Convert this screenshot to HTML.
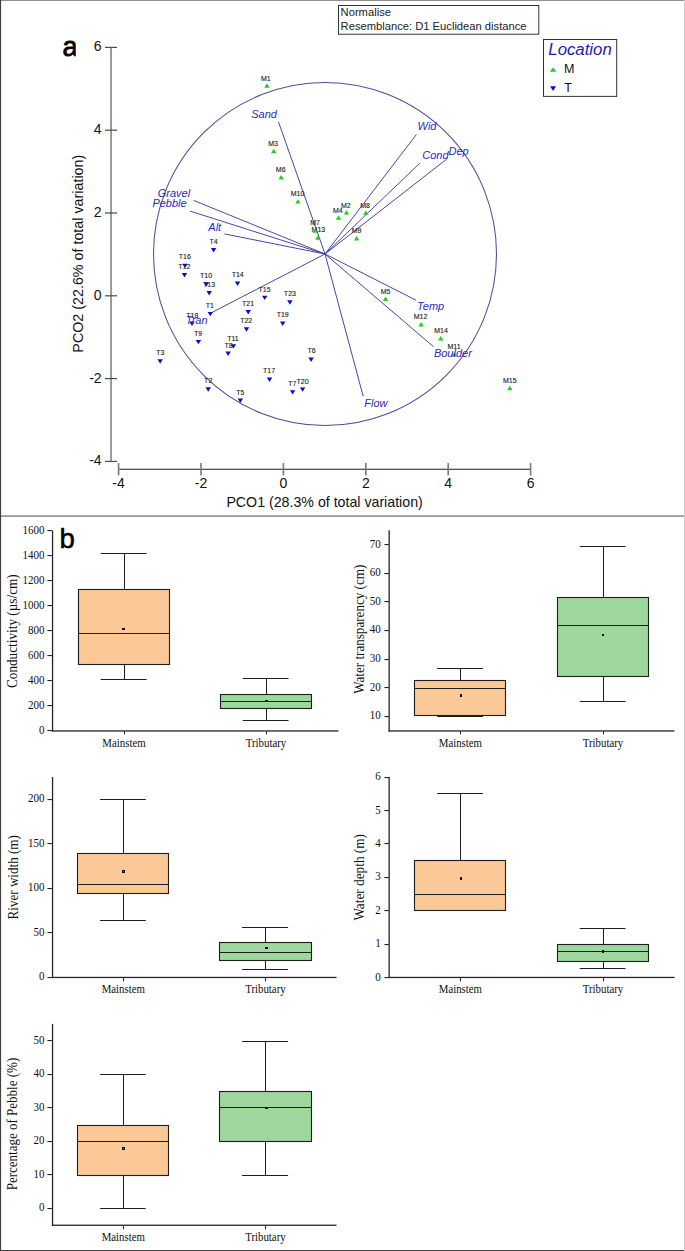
<!DOCTYPE html>
<html><head><meta charset="utf-8"><title>PCO and box plots</title>
<style>
html,body{margin:0;padding:0;background:#fff;}
svg{display:block;}
</style></head>
<body>
<svg width="685" height="1251" viewBox="0 0 685 1251" font-family="'Liberation Sans', sans-serif">
<rect width="685" height="1251" fill="#fff"/>
<rect x="110.2" y="47.3" width="1.7" height="414.5" fill="#8a8a8a"/>
<rect x="105" y="46.8" width="12" height="1.2" fill="#4a4a4a"/>
<text x="101.6" y="51.4" font-size="14" text-anchor="end" fill="#111">6</text>
<rect x="105" y="129.6" width="12" height="1.2" fill="#4a4a4a"/>
<text x="101.6" y="134.2" font-size="14" text-anchor="end" fill="#111">4</text>
<rect x="105" y="212.4" width="12" height="1.2" fill="#4a4a4a"/>
<text x="101.6" y="217.0" font-size="14" text-anchor="end" fill="#111">2</text>
<rect x="105" y="295.2" width="12" height="1.2" fill="#4a4a4a"/>
<text x="101.6" y="299.8" font-size="14" text-anchor="end" fill="#111">0</text>
<rect x="105" y="378.0" width="12" height="1.2" fill="#4a4a4a"/>
<text x="101.6" y="382.6" font-size="14" text-anchor="end" fill="#111">-2</text>
<rect x="105" y="460.8" width="12" height="1.2" fill="#4a4a4a"/>
<text x="101.6" y="465.4" font-size="14" text-anchor="end" fill="#111">-4</text>
<rect x="119" y="468.7" width="412" height="1.2" fill="#444"/>
<rect x="117.8" y="463" width="1.6" height="12.4" fill="#7a7a7a"/>
<text x="118.6" y="488.1" font-size="14" text-anchor="middle" fill="#111">-4</text>
<rect x="200.2" y="463" width="1.6" height="12.4" fill="#7a7a7a"/>
<text x="201.0" y="488.1" font-size="14" text-anchor="middle" fill="#111">-2</text>
<rect x="282.6" y="463" width="1.6" height="12.4" fill="#7a7a7a"/>
<text x="283.4" y="488.1" font-size="14" text-anchor="middle" fill="#111">0</text>
<rect x="365.0" y="463" width="1.6" height="12.4" fill="#7a7a7a"/>
<text x="365.8" y="488.1" font-size="14" text-anchor="middle" fill="#111">2</text>
<rect x="447.4" y="463" width="1.6" height="12.4" fill="#7a7a7a"/>
<text x="448.2" y="488.1" font-size="14" text-anchor="middle" fill="#111">4</text>
<rect x="529.8" y="463" width="1.6" height="12.4" fill="#7a7a7a"/>
<text x="530.6" y="488.1" font-size="14" text-anchor="middle" fill="#111">6</text>
<text x="324.6" y="506.7" font-size="14.2" text-anchor="middle" fill="#111">PCO1 (28.3% of total variation)</text>
<text transform="translate(83.2,253.7) rotate(-90)" font-size="14.3" text-anchor="middle" fill="#111">PCO2 (22.6% of total variation)</text>
<text x="62.4" y="55.6" font-size="27.5" fill="#000" stroke="#000" stroke-width="0.8">a</text>
<rect x="75.8" y="36" width="6" height="24" fill="#fff"/>
<rect x="338.5" y="5.5" width="200.3" height="28.7" fill="none" stroke="#333" stroke-width="1"/>
<text x="340.6" y="16" font-size="11.2" fill="#222">Normalise</text>
<text x="340.6" y="30.2" font-size="11.2" fill="#222">Resemblance: D1 Euclidean distance</text>
<rect x="543.5" y="39.5" width="73.2" height="56.9" fill="none" stroke="#333" stroke-width="1"/>
<text x="548.3" y="54.7" font-size="16.8" font-style="italic" fill="#1c1cb4">Location</text>
<text x="564" y="73.4" font-size="12.5" fill="#111">M</text>
<text x="564.3" y="91.5" font-size="12.5" fill="#111">T</text>
<path d="M549.80 71.80L556.40 71.80L553.10 67.40Z" fill="#17d417"/>
<path d="M550.10 86.20L556.00 86.20L553.05 91.10Z" fill="#0a0ad0"/>
<circle cx="325.0" cy="254.0" r="171.5" fill="none" stroke="#524c9c" stroke-width="1.05"/>
<line x1="325.0" y1="254.0" x2="278.4" y2="121.7" stroke="#3f3ca2" stroke-width="0.95"/>
<line x1="325.0" y1="254.0" x2="193.6" y2="200.4" stroke="#3f3ca2" stroke-width="0.95"/>
<line x1="325.0" y1="254.0" x2="190.1" y2="211.1" stroke="#3f3ca2" stroke-width="0.95"/>
<line x1="325.0" y1="254.0" x2="224.5" y2="233.9" stroke="#3f3ca2" stroke-width="0.95"/>
<line x1="325.0" y1="254.0" x2="416.4" y2="134.5" stroke="#3f3ca2" stroke-width="0.95"/>
<line x1="325.0" y1="254.0" x2="419.9" y2="163.1" stroke="#3f3ca2" stroke-width="0.95"/>
<line x1="325.0" y1="254.0" x2="446.7" y2="159.1" stroke="#3f3ca2" stroke-width="0.95"/>
<line x1="325.0" y1="254.0" x2="415.8" y2="300.1" stroke="#3f3ca2" stroke-width="0.95"/>
<line x1="325.0" y1="254.0" x2="433.4" y2="346.6" stroke="#3f3ca2" stroke-width="0.95"/>
<line x1="325.0" y1="254.0" x2="363.2" y2="396.3" stroke="#3f3ca2" stroke-width="0.95"/>
<line x1="325.0" y1="254.0" x2="210.9" y2="313.0" stroke="#3f3ca2" stroke-width="0.95"/>
<g font-size="7" fill="#1a1a1a" stroke="#1a1a1a" stroke-width="0.12" text-anchor="middle">
<text x="265.9" y="80.5">M1</text>
<text x="273" y="145.5">M3</text>
<text x="280.7" y="171.8">M6</text>
<text x="297.6" y="196.3">M10</text>
<text x="345.8" y="207.5">M2</text>
<text x="337.8" y="213">M4</text>
<text x="365.1" y="207.5">M8</text>
<text x="315.1" y="224.8">M7</text>
<text x="318.4" y="232.3">M13</text>
<text x="356.6" y="233.2">M9</text>
<text x="385.5" y="293.7">M5</text>
<text x="420.6" y="319.3">M12</text>
<text x="441" y="333.2">M14</text>
<text x="454" y="349.2">M11</text>
<text x="509.8" y="382.9">M15</text>
<text x="213.65" y="244.2">T4</text>
<text x="184.8" y="259.1">T16</text>
<text x="184.25" y="268.5">T12</text>
<text x="206" y="277.9">T10</text>
<text x="209.1" y="287">T13</text>
<text x="237.7" y="277.3">T14</text>
<text x="209.8" y="307.6">T1</text>
<text x="192.3" y="317.5">T18</text>
<text x="198.1" y="335.6">T9</text>
<text x="160.3" y="355.1">T3</text>
<text x="264.6" y="291.8">T15</text>
<text x="289.9" y="296.4">T23</text>
<text x="248" y="305.6">T21</text>
<text x="282.7" y="317">T19</text>
<text x="246.2" y="323.1">T22</text>
<text x="232.9" y="340.7">T11</text>
<text x="228.5" y="347.5">T8</text>
<text x="311.5" y="353.4">T6</text>
<text x="269.1" y="373.3">T17</text>
<text x="292.3" y="386.1">T7</text>
<text x="302.5" y="383.8">T20</text>
<text x="208.2" y="382.8">T2</text>
<text x="240.4" y="394.5">T5</text>
</g>
<path d="M264.20 87.85L269.60 87.85L266.90 83.45Z" fill="#17d417"/>
<path d="M271.00 153.20L276.40 153.20L273.70 148.80Z" fill="#17d417"/>
<path d="M278.50 179.40L283.90 179.40L281.20 175.00Z" fill="#17d417"/>
<path d="M295.20 203.60L300.60 203.60L297.90 199.20Z" fill="#17d417"/>
<path d="M343.80 214.60L349.20 214.60L346.50 210.20Z" fill="#17d417"/>
<path d="M335.80 219.80L341.20 219.80L338.50 215.40Z" fill="#17d417"/>
<path d="M363.10 214.80L368.50 214.80L365.80 210.40Z" fill="#17d417"/>
<path d="M312.50 232.70L317.90 232.70L315.20 228.30Z" fill="#17d417"/>
<path d="M315.10 239.70L320.50 239.70L317.80 235.30Z" fill="#17d417"/>
<path d="M353.90 240.50L359.30 240.50L356.60 236.10Z" fill="#17d417"/>
<path d="M382.90 301.00L388.30 301.00L385.60 296.60Z" fill="#17d417"/>
<path d="M418.40 326.40L423.80 326.40L421.10 322.00Z" fill="#17d417"/>
<path d="M438.00 340.50L443.40 340.50L440.70 336.10Z" fill="#17d417"/>
<path d="M451.60 356.40L457.00 356.40L454.30 352.00Z" fill="#17d417"/>
<path d="M507.10 390.20L512.50 390.20L509.80 385.80Z" fill="#17d417"/>
<path d="M210.90 248.10L216.30 248.10L213.60 252.50Z" fill="#0a0ad0"/>
<path d="M182.30 263.70L187.70 263.70L185.00 268.10Z" fill="#0a0ad0"/>
<path d="M181.80 273.10L187.20 273.10L184.50 277.50Z" fill="#0a0ad0"/>
<path d="M203.60 282.30L209.00 282.30L206.30 286.70Z" fill="#0a0ad0"/>
<path d="M206.50 291.10L211.90 291.10L209.20 295.50Z" fill="#0a0ad0"/>
<path d="M234.80 281.50L240.20 281.50L237.50 285.90Z" fill="#0a0ad0"/>
<path d="M207.60 311.90L213.00 311.90L210.30 316.30Z" fill="#0a0ad0"/>
<path d="M189.30 321.50L194.70 321.50L192.00 325.90Z" fill="#0a0ad0"/>
<path d="M195.70 339.90L201.10 339.90L198.40 344.30Z" fill="#0a0ad0"/>
<path d="M157.50 359.30L162.90 359.30L160.20 363.70Z" fill="#0a0ad0"/>
<path d="M262.00 295.70L267.40 295.70L264.70 300.10Z" fill="#0a0ad0"/>
<path d="M287.20 300.30L292.60 300.30L289.90 304.70Z" fill="#0a0ad0"/>
<path d="M245.50 310.10L250.90 310.10L248.20 314.50Z" fill="#0a0ad0"/>
<path d="M280.00 321.50L285.40 321.50L282.70 325.90Z" fill="#0a0ad0"/>
<path d="M243.80 327.30L249.20 327.30L246.50 331.70Z" fill="#0a0ad0"/>
<path d="M230.70 344.20L236.10 344.20L233.40 348.60Z" fill="#0a0ad0"/>
<path d="M225.40 351.50L230.80 351.50L228.10 355.90Z" fill="#0a0ad0"/>
<path d="M308.40 357.50L313.80 357.50L311.10 361.90Z" fill="#0a0ad0"/>
<path d="M266.80 377.60L272.20 377.60L269.50 382.00Z" fill="#0a0ad0"/>
<path d="M289.90 390.20L295.30 390.20L292.60 394.60Z" fill="#0a0ad0"/>
<path d="M299.90 387.40L305.30 387.40L302.60 391.80Z" fill="#0a0ad0"/>
<path d="M205.50 387.30L210.90 387.30L208.20 391.70Z" fill="#0a0ad0"/>
<path d="M237.60 398.50L243.00 398.50L240.30 402.90Z" fill="#0a0ad0"/>
<g font-size="11" font-style="italic" fill="#2a2ac0">
<text x="251.2" y="118.2">Sand</text>
<text x="157.7" y="196.7">Gravel</text>
<text x="152.4" y="207.3">Pebble</text>
<text x="208.3" y="230.6">Alt</text>
<text x="417.6" y="130.4">Wid</text>
<text x="422.3" y="158.5">Cond</text>
<text x="448.5" y="154.6">Dep</text>
<text x="417.1" y="309.8">Temp</text>
<text x="433.9" y="357.1">Boulder</text>
<text x="364.3" y="406.8">Flow</text>
<text x="185.8" y="323.5">Tran</text>
</g>
<rect x="0" y="515.2" width="685" height="1.8" fill="#9a9a9a"/>
<rect x="51.90" y="530.5" width="1.3" height="201.1" fill="#262626"/>
<rect x="51.90" y="730.30" width="286.6" height="1.3" fill="#262626"/>
<rect x="47.40" y="730" width="4.60" height="1.1" fill="#262626"/>
<text transform="translate(44.5,733.50) scale(1,1.15)" font-size="11" text-anchor="end" font-family="'Liberation Serif', serif" fill="#111">0</text>
<rect x="47.40" y="705" width="4.60" height="1.1" fill="#262626"/>
<text transform="translate(44.5,708.50) scale(1,1.15)" font-size="11" text-anchor="end" font-family="'Liberation Serif', serif" fill="#111">200</text>
<rect x="47.40" y="680" width="4.60" height="1.1" fill="#262626"/>
<text transform="translate(44.5,683.50) scale(1,1.15)" font-size="11" text-anchor="end" font-family="'Liberation Serif', serif" fill="#111">400</text>
<rect x="47.40" y="655" width="4.60" height="1.1" fill="#262626"/>
<text transform="translate(44.5,658.50) scale(1,1.15)" font-size="11" text-anchor="end" font-family="'Liberation Serif', serif" fill="#111">600</text>
<rect x="47.40" y="630" width="4.60" height="1.1" fill="#262626"/>
<text transform="translate(44.5,633.50) scale(1,1.15)" font-size="11" text-anchor="end" font-family="'Liberation Serif', serif" fill="#111">800</text>
<rect x="47.40" y="605" width="4.60" height="1.1" fill="#262626"/>
<text transform="translate(44.5,608.50) scale(1,1.15)" font-size="11" text-anchor="end" font-family="'Liberation Serif', serif" fill="#111">1000</text>
<rect x="47.40" y="580" width="4.60" height="1.1" fill="#262626"/>
<text transform="translate(44.5,583.50) scale(1,1.15)" font-size="11" text-anchor="end" font-family="'Liberation Serif', serif" fill="#111">1200</text>
<rect x="47.40" y="555" width="4.60" height="1.1" fill="#262626"/>
<text transform="translate(44.5,558.50) scale(1,1.15)" font-size="11" text-anchor="end" font-family="'Liberation Serif', serif" fill="#111">1400</text>
<rect x="47.40" y="530" width="4.60" height="1.1" fill="#262626"/>
<text transform="translate(44.5,533.50) scale(1,1.15)" font-size="11" text-anchor="end" font-family="'Liberation Serif', serif" fill="#111">1600</text>
<rect x="124" y="553.00" width="1.0" height="36.00" fill="#1e1e1e"/>
<rect x="100.75" y="553" width="45.80" height="1.0" fill="#1e1e1e"/>
<rect x="124" y="665.00" width="1.0" height="14.00" fill="#1e1e1e"/>
<rect x="100.75" y="679" width="45.80" height="1.0" fill="#1e1e1e"/>
<rect x="78.5" y="589.5" width="91" height="75" fill="#fbc897" stroke="#1e1e1e" stroke-width="1.1"/>
<rect x="78.00" y="633" width="92.00" height="1.0" fill="#1e1e1e"/>
<rect x="122" y="628" width="3" height="2" fill="#0a0a0a"/>
<rect x="124" y="731.00" width="1.0" height="3.30" fill="#262626"/>
<text transform="translate(124.00,746.70) scale(0.985,1.1)" font-size="11" text-anchor="middle" font-family="'Liberation Serif', serif" fill="#111">Mainstem</text>
<rect x="266" y="678.00" width="1.0" height="16.00" fill="#1e1e1e"/>
<rect x="242.75" y="678" width="45.80" height="1.0" fill="#1e1e1e"/>
<rect x="266" y="709.00" width="1.0" height="11.00" fill="#1e1e1e"/>
<rect x="242.75" y="720" width="45.80" height="1.0" fill="#1e1e1e"/>
<rect x="220.5" y="694.5" width="91" height="14" fill="#9dd79d" stroke="#1e1e1e" stroke-width="1.1"/>
<rect x="220.00" y="701" width="92.00" height="1.0" fill="#1e1e1e"/>
<rect x="265" y="700" width="3" height="1" fill="#0a0a0a"/>
<rect x="266" y="731.00" width="1.0" height="3.30" fill="#262626"/>
<text transform="translate(266.00,746.70) scale(0.985,1.1)" font-size="11" text-anchor="middle" font-family="'Liberation Serif', serif" fill="#111">Tributary</text>
<text transform="translate(17.2,631.15) rotate(-90)" font-size="14.4" text-anchor="middle" font-family="'Liberation Serif', serif" fill="#111" textLength="113.8" lengthAdjust="spacingAndGlyphs">Conductivity (µs/cm)</text>
<rect x="388.50" y="530.2" width="1.3" height="201.4" fill="#262626"/>
<rect x="388.50" y="730.30" width="286.0" height="1.3" fill="#262626"/>
<rect x="384.40" y="716" width="4.60" height="1.1" fill="#262626"/>
<text transform="translate(380.7,719.20) scale(1,1.15)" font-size="11" text-anchor="end" font-family="'Liberation Serif', serif" fill="#111">10</text>
<rect x="384.40" y="687" width="4.60" height="1.1" fill="#262626"/>
<text transform="translate(380.7,690.63) scale(1,1.15)" font-size="11" text-anchor="end" font-family="'Liberation Serif', serif" fill="#111">20</text>
<rect x="384.40" y="659" width="4.60" height="1.1" fill="#262626"/>
<text transform="translate(380.7,662.06) scale(1,1.15)" font-size="11" text-anchor="end" font-family="'Liberation Serif', serif" fill="#111">30</text>
<rect x="384.40" y="630" width="4.60" height="1.1" fill="#262626"/>
<text transform="translate(380.7,633.49) scale(1,1.15)" font-size="11" text-anchor="end" font-family="'Liberation Serif', serif" fill="#111">40</text>
<rect x="384.40" y="601" width="4.60" height="1.1" fill="#262626"/>
<text transform="translate(380.7,604.92) scale(1,1.15)" font-size="11" text-anchor="end" font-family="'Liberation Serif', serif" fill="#111">50</text>
<rect x="384.40" y="573" width="4.60" height="1.1" fill="#262626"/>
<text transform="translate(380.7,576.35) scale(1,1.15)" font-size="11" text-anchor="end" font-family="'Liberation Serif', serif" fill="#111">60</text>
<rect x="384.40" y="544" width="4.60" height="1.1" fill="#262626"/>
<text transform="translate(380.7,547.78) scale(1,1.15)" font-size="11" text-anchor="end" font-family="'Liberation Serif', serif" fill="#111">70</text>
<rect x="460" y="668.00" width="1.0" height="12.00" fill="#1e1e1e"/>
<rect x="437.12" y="668" width="45.85" height="1.0" fill="#1e1e1e"/>
<rect x="460" y="716.00" width="1.0" height="0.00" fill="#1e1e1e"/>
<rect x="437.12" y="716" width="45.85" height="1.0" fill="#1e1e1e"/>
<rect x="414.5" y="680.5" width="91" height="35" fill="#fbc897" stroke="#1e1e1e" stroke-width="1.1"/>
<rect x="414.00" y="688" width="92.00" height="1.0" fill="#1e1e1e"/>
<rect x="460" y="694" width="2" height="3" fill="#0a0a0a"/>
<rect x="460" y="731.00" width="1.0" height="3.30" fill="#262626"/>
<text transform="translate(460.40,746.70) scale(0.985,1.1)" font-size="11" text-anchor="middle" font-family="'Liberation Serif', serif" fill="#111">Mainstem</text>
<rect x="603" y="546.00" width="1.0" height="51.00" fill="#1e1e1e"/>
<rect x="579.77" y="546" width="45.75" height="1.0" fill="#1e1e1e"/>
<rect x="603" y="677.00" width="1.0" height="24.00" fill="#1e1e1e"/>
<rect x="579.77" y="701" width="45.75" height="1.0" fill="#1e1e1e"/>
<rect x="557.5" y="597.5" width="91" height="79" fill="#9dd79d" stroke="#1e1e1e" stroke-width="1.1"/>
<rect x="557.00" y="625" width="92.00" height="1.0" fill="#1e1e1e"/>
<rect x="602" y="634" width="2" height="2" fill="#0a0a0a"/>
<rect x="603" y="731.00" width="1.0" height="3.30" fill="#262626"/>
<text transform="translate(603.00,746.70) scale(0.985,1.1)" font-size="11" text-anchor="middle" font-family="'Liberation Serif', serif" fill="#111">Tributary</text>
<text transform="translate(364.3,629.25) rotate(-90)" font-size="14.4" text-anchor="middle" font-family="'Liberation Serif', serif" fill="#111" textLength="129.2" lengthAdjust="spacingAndGlyphs">Water transparency (cm)</text>
<rect x="51.90" y="777.0" width="1.3" height="201.1" fill="#262626"/>
<rect x="51.90" y="976.80" width="284.6" height="1.3" fill="#262626"/>
<rect x="47.40" y="977" width="4.60" height="1.1" fill="#262626"/>
<text transform="translate(44.5,980.40) scale(1,1.15)" font-size="11" text-anchor="end" font-family="'Liberation Serif', serif" fill="#111">0</text>
<rect x="47.40" y="932" width="4.60" height="1.1" fill="#262626"/>
<text transform="translate(44.5,935.85) scale(1,1.15)" font-size="11" text-anchor="end" font-family="'Liberation Serif', serif" fill="#111">50</text>
<rect x="47.40" y="888" width="4.60" height="1.1" fill="#262626"/>
<text transform="translate(44.5,891.30) scale(1,1.15)" font-size="11" text-anchor="end" font-family="'Liberation Serif', serif" fill="#111">100</text>
<rect x="47.40" y="843" width="4.60" height="1.1" fill="#262626"/>
<text transform="translate(44.5,846.75) scale(1,1.15)" font-size="11" text-anchor="end" font-family="'Liberation Serif', serif" fill="#111">150</text>
<rect x="47.40" y="799" width="4.60" height="1.1" fill="#262626"/>
<text transform="translate(44.5,802.20) scale(1,1.15)" font-size="11" text-anchor="end" font-family="'Liberation Serif', serif" fill="#111">200</text>
<rect x="123" y="799.00" width="1.0" height="54.00" fill="#1e1e1e"/>
<rect x="100.07" y="799" width="45.75" height="1.0" fill="#1e1e1e"/>
<rect x="123" y="894.00" width="1.0" height="26.00" fill="#1e1e1e"/>
<rect x="100.07" y="920" width="45.75" height="1.0" fill="#1e1e1e"/>
<rect x="77.5" y="853.5" width="91" height="40" fill="#fbc897" stroke="#1e1e1e" stroke-width="1.1"/>
<rect x="77.00" y="884" width="92.00" height="1.0" fill="#1e1e1e"/>
<rect x="122" y="870" width="3" height="3" fill="#0a0a0a"/>
<rect x="123" y="871" width="1" height="1" fill="#6a6a6a"/>
<rect x="123" y="978.00" width="1.0" height="3.30" fill="#262626"/>
<text transform="translate(123.30,993.20) scale(0.985,1.1)" font-size="11" text-anchor="middle" font-family="'Liberation Serif', serif" fill="#111">Mainstem</text>
<rect x="265" y="927.00" width="1.0" height="15.00" fill="#1e1e1e"/>
<rect x="242.00" y="927" width="46.10" height="1.0" fill="#1e1e1e"/>
<rect x="265" y="961.00" width="1.0" height="8.00" fill="#1e1e1e"/>
<rect x="242.00" y="969" width="46.10" height="1.0" fill="#1e1e1e"/>
<rect x="219.5" y="942.5" width="92" height="18" fill="#9dd79d" stroke="#1e1e1e" stroke-width="1.1"/>
<rect x="219.00" y="952" width="93.00" height="1.0" fill="#1e1e1e"/>
<rect x="265" y="947" width="3" height="2" fill="#0a0a0a"/>
<rect x="265" y="978.00" width="1.0" height="3.30" fill="#262626"/>
<text transform="translate(265.40,993.20) scale(0.985,1.1)" font-size="11" text-anchor="middle" font-family="'Liberation Serif', serif" fill="#111">Tributary</text>
<text transform="translate(17.6,877.3) rotate(-90)" font-size="14.4" text-anchor="middle" font-family="'Liberation Serif', serif" fill="#111" textLength="84.2" lengthAdjust="spacingAndGlyphs">River width (m)</text>
<rect x="388.50" y="777.0" width="1.3" height="201.1" fill="#262626"/>
<rect x="388.50" y="976.80" width="286.0" height="1.3" fill="#262626"/>
<rect x="384.40" y="977" width="4.60" height="1.1" fill="#262626"/>
<text transform="translate(380.7,980.50) scale(1,1.15)" font-size="11" text-anchor="end" font-family="'Liberation Serif', serif" fill="#111">0</text>
<rect x="384.40" y="944" width="4.60" height="1.1" fill="#262626"/>
<text transform="translate(380.7,947.10) scale(1,1.15)" font-size="11" text-anchor="end" font-family="'Liberation Serif', serif" fill="#111">1</text>
<rect x="384.40" y="910" width="4.60" height="1.1" fill="#262626"/>
<text transform="translate(380.7,913.70) scale(1,1.15)" font-size="11" text-anchor="end" font-family="'Liberation Serif', serif" fill="#111">2</text>
<rect x="384.40" y="877" width="4.60" height="1.1" fill="#262626"/>
<text transform="translate(380.7,880.30) scale(1,1.15)" font-size="11" text-anchor="end" font-family="'Liberation Serif', serif" fill="#111">3</text>
<rect x="384.40" y="843" width="4.60" height="1.1" fill="#262626"/>
<text transform="translate(380.7,846.90) scale(1,1.15)" font-size="11" text-anchor="end" font-family="'Liberation Serif', serif" fill="#111">4</text>
<rect x="384.40" y="810" width="4.60" height="1.1" fill="#262626"/>
<text transform="translate(380.7,813.50) scale(1,1.15)" font-size="11" text-anchor="end" font-family="'Liberation Serif', serif" fill="#111">5</text>
<rect x="384.40" y="777" width="4.60" height="1.1" fill="#262626"/>
<text transform="translate(380.7,780.10) scale(1,1.15)" font-size="11" text-anchor="end" font-family="'Liberation Serif', serif" fill="#111">6</text>
<rect x="460" y="793.00" width="1.0" height="67.00" fill="#1e1e1e"/>
<rect x="437.12" y="793" width="45.85" height="1.0" fill="#1e1e1e"/>
<rect x="414.5" y="860.5" width="91" height="50" fill="#fbc897" stroke="#1e1e1e" stroke-width="1.1"/>
<rect x="414.00" y="894" width="92.00" height="1.0" fill="#1e1e1e"/>
<rect x="460" y="877" width="2" height="3" fill="#0a0a0a"/>
<rect x="460" y="978.00" width="1.0" height="3.30" fill="#262626"/>
<text transform="translate(460.40,993.20) scale(0.985,1.1)" font-size="11" text-anchor="middle" font-family="'Liberation Serif', serif" fill="#111">Mainstem</text>
<rect x="603" y="928.00" width="1.0" height="16.00" fill="#1e1e1e"/>
<rect x="579.77" y="928" width="45.75" height="1.0" fill="#1e1e1e"/>
<rect x="603" y="962.00" width="1.0" height="6.00" fill="#1e1e1e"/>
<rect x="579.77" y="968" width="45.75" height="1.0" fill="#1e1e1e"/>
<rect x="557.5" y="944.5" width="91" height="17" fill="#9dd79d" stroke="#1e1e1e" stroke-width="1.1"/>
<rect x="557.00" y="951" width="92.00" height="1.0" fill="#1e1e1e"/>
<rect x="602" y="950" width="2" height="3" fill="#0a0a0a"/>
<rect x="603" y="978.00" width="1.0" height="3.30" fill="#262626"/>
<text transform="translate(603.00,993.20) scale(0.985,1.1)" font-size="11" text-anchor="middle" font-family="'Liberation Serif', serif" fill="#111">Tributary</text>
<text transform="translate(364.0,877.3) rotate(-90)" font-size="14.4" text-anchor="middle" font-family="'Liberation Serif', serif" fill="#111" textLength="86.6" lengthAdjust="spacingAndGlyphs">Water depth (m)</text>
<rect x="51.90" y="1023.9" width="1.3" height="202.0" fill="#262626"/>
<rect x="51.90" y="1224.60" width="284.6" height="1.3" fill="#262626"/>
<rect x="47.40" y="1208" width="4.60" height="1.1" fill="#262626"/>
<text transform="translate(44.5,1211.10) scale(1,1.15)" font-size="11" text-anchor="end" font-family="'Liberation Serif', serif" fill="#111">0</text>
<rect x="47.40" y="1174" width="4.60" height="1.1" fill="#262626"/>
<text transform="translate(44.5,1177.66) scale(1,1.15)" font-size="11" text-anchor="end" font-family="'Liberation Serif', serif" fill="#111">10</text>
<rect x="47.40" y="1141" width="4.60" height="1.1" fill="#262626"/>
<text transform="translate(44.5,1144.22) scale(1,1.15)" font-size="11" text-anchor="end" font-family="'Liberation Serif', serif" fill="#111">20</text>
<rect x="47.40" y="1107" width="4.60" height="1.1" fill="#262626"/>
<text transform="translate(44.5,1110.78) scale(1,1.15)" font-size="11" text-anchor="end" font-family="'Liberation Serif', serif" fill="#111">30</text>
<rect x="47.40" y="1074" width="4.60" height="1.1" fill="#262626"/>
<text transform="translate(44.5,1077.34) scale(1,1.15)" font-size="11" text-anchor="end" font-family="'Liberation Serif', serif" fill="#111">40</text>
<rect x="47.40" y="1040" width="4.60" height="1.1" fill="#262626"/>
<text transform="translate(44.5,1043.90) scale(1,1.15)" font-size="11" text-anchor="end" font-family="'Liberation Serif', serif" fill="#111">50</text>
<rect x="123" y="1074.00" width="1.0" height="51.00" fill="#1e1e1e"/>
<rect x="100.17" y="1074" width="45.55" height="1.0" fill="#1e1e1e"/>
<rect x="123" y="1176.00" width="1.0" height="32.00" fill="#1e1e1e"/>
<rect x="100.17" y="1208" width="45.55" height="1.0" fill="#1e1e1e"/>
<rect x="77.5" y="1125.5" width="91" height="50" fill="#fbc897" stroke="#1e1e1e" stroke-width="1.1"/>
<rect x="77.00" y="1141" width="92.00" height="1.0" fill="#1e1e1e"/>
<rect x="122" y="1147" width="3" height="3" fill="#0a0a0a"/>
<rect x="123" y="1148" width="1" height="1" fill="#6a6a6a"/>
<rect x="123" y="1226.00" width="1.0" height="3.30" fill="#262626"/>
<text transform="translate(123.30,1241.00) scale(0.985,1.1)" font-size="11" text-anchor="middle" font-family="'Liberation Serif', serif" fill="#111">Mainstem</text>
<rect x="265" y="1041.00" width="1.0" height="50.00" fill="#1e1e1e"/>
<rect x="242.00" y="1041" width="46.10" height="1.0" fill="#1e1e1e"/>
<rect x="265" y="1142.00" width="1.0" height="33.00" fill="#1e1e1e"/>
<rect x="242.00" y="1175" width="46.10" height="1.0" fill="#1e1e1e"/>
<rect x="219.5" y="1091.5" width="92" height="50" fill="#9dd79d" stroke="#1e1e1e" stroke-width="1.1"/>
<rect x="219.00" y="1107" width="93.00" height="1.0" fill="#1e1e1e"/>
<rect x="265" y="1108" width="3" height="1" fill="#0a0a0a"/>
<rect x="265" y="1226.00" width="1.0" height="3.30" fill="#262626"/>
<text transform="translate(265.40,1241.00) scale(0.985,1.1)" font-size="11" text-anchor="middle" font-family="'Liberation Serif', serif" fill="#111">Tributary</text>
<text transform="translate(17.0,1124.05) rotate(-90)" font-size="14.4" text-anchor="middle" font-family="'Liberation Serif', serif" fill="#111" textLength="132.6" lengthAdjust="spacingAndGlyphs">Percentage of Pebble (%)</text>
<text x="59.6" y="548" font-size="27.5" fill="#000" stroke="#000" stroke-width="0.55">b</text>
<rect x="0" y="0" width="685" height="1" fill="#909090"/>
<rect x="0" y="0" width="1.1" height="1251" fill="#404040"/>
<rect x="0" y="1250" width="685" height="1" fill="#404040"/>
<rect x="684" y="0" width="1" height="1251" fill="#cfcfcf"/>
</svg>
</body></html>
